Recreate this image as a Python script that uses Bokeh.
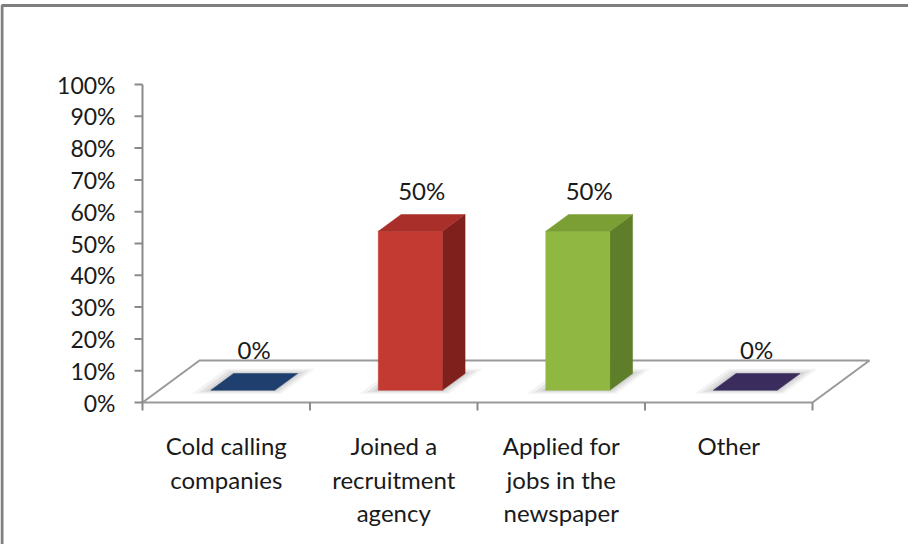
from bokeh.plotting import figure
from bokeh.models import Range1d
from bokeh.embed import file_html
from bokeh.resources import INLINE
from bokeh.core.properties import value

# ---------------- data ----------------
categories = [
    ["Cold calling", "companies"],
    ["Joined a", "recruitment", "agency"],
    ["Applied for", "jobs in the", "newspaper"],
    ["Other"],
]
values = [0, 50, 50, 0]
value_labels = ["0%", "50%", "50%", "0%"]
y_ticks = [0, 10, 20, 30, 40, 50, 60, 70, 80, 90, 100]
y_tick_labels = ["0%", "10%", "20%", "30%", "40%", "50%", "60%", "70%", "80%", "90%", "100%"]

front_colors = ["#1F3F6E", "#C23A31", "#8FB741", "#3B2C5E"]
top_colors = ["#1F3F6E", "#A9302A", "#7B9E35", "#3B2C5E"]
side_colors = ["#17305A", "#7F201C", "#5F7E29", "#2C2148"]

# ---------------- layout ----------------
SX = 167.5      # px per category unit
SY = 3.18       # px per percent
X0 = -142.0 / SX
X1 = 766.0 / SX
Y0 = -142.0 / SY
Y1 = 402.0 / SY

DX, DY = 57.0 / SX, 42.0 / SY     # floor depth vector
F0, F1 = 0.29, 0.69               # bar depth fractions
W = 64.0 / SX                     # bar width
FONT = value("Lato")
FS_TICK = "23px"
FS = "24px"
TEXT = "#1A1A1A"
AX = "#8A8A8A"

p = figure(width=908, height=544, x_range=Range1d(X0, X1), y_range=Range1d(Y0, Y1),
           output_backend="svg", toolbar_location=None, min_border=0,
           x_axis_location=None, y_axis_location=None)
p.grid.visible = False
p.outline_line_color = None
p.background_fill_color = "white"
p.border_fill_color = "white"

# outer frame (top and left edges visible)
bx = X0 + 1.5 / SX
by = Y1 - 5.0 / SY
p.line([bx, bx, X1 + 1], [Y0 - 1, by, by], line_color="#7F7F7F", line_width=3)

n = len(values)

# floor
p.patch([0, n, n + DX, DX], [0, 0, DY, DY], fill_color="white",
        line_color="#9A9A9A", line_width=2)

# shadows at bar bases
for grow, alpha in [(14, 0.12), (9, 0.18), (4, 0.22)]:
    sh_xs, sh_ys = [], []
    for i in range(n):
        c = i + 0.5
        xl, xr = c - W / 2 - grow / SX, c + W / 2 + grow * 0.8 / SX
        a, b = F0 - grow * 0.006, F1 + grow * 0.008
        sh_xs.append([xl + a * DX, xr + a * DX, xr + b * DX, xl + b * DX])
        sh_ys.append([a * DY, a * DY, b * DY, b * DY])
    p.patches(sh_xs, sh_ys, fill_color="#9A9A9A", fill_alpha=alpha, line_color=None)

# bars
fx, fy, tx, ty, sx_, sy_ = [], [], [], [], [], []
fc, tc, scol = [], [], []
for i, v in enumerate(values):
    c = i + 0.5
    xl, xr = c - W / 2, c + W / 2
    tx.append([xl + F0 * DX, xr + F0 * DX, xr + F1 * DX, xl + F1 * DX])
    ty.append([F0 * DY + v, F0 * DY + v, F1 * DY + v, F1 * DY + v])
    tc.append(top_colors[i])
    if v > 0:
        fx.append([xl + F0 * DX, xr + F0 * DX, xr + F0 * DX, xl + F0 * DX])
        fy.append([F0 * DY, F0 * DY, F0 * DY + v, F0 * DY + v])
        fc.append(front_colors[i])
        sx_.append([xr + F0 * DX, xr + F1 * DX, xr + F1 * DX, xr + F0 * DX])
        sy_.append([F0 * DY, F1 * DY, F1 * DY + v, F0 * DY + v])
        scol.append(side_colors[i])
p.patches(sx_, sy_, fill_color=scol, line_color=scol, line_width=0.5)
p.patches(fx, fy, fill_color=fc, line_color=fc, line_width=0.5)
p.patches(tx, ty, fill_color=tc, line_color=tc, line_width=0.5)

# value labels
lx = [i + 0.5 + (F0 + F1) / 2 * DX for i in range(n)]
ly = [v + F1 * DY + 7.5 for v in values]
p.text(lx, ly, text=value_labels, text_align="center", text_baseline="middle",
       text_font=FONT, text_font_size=FS, text_color=TEXT)

# y axis
p.line([0, 0], [0, max(y_ticks)], line_color=AX, line_width=2)
tick_len = 8.0 / SX
p.segment([-tick_len] * len(y_ticks), y_ticks, [0] * len(y_ticks), y_ticks,
          line_color=AX, line_width=2)
p.text([-27.0 / SX] * len(y_ticks), y_ticks, text=y_tick_labels,
       text_align="right", text_baseline="middle",
       text_font=FONT, text_font_size=FS_TICK, text_color=TEXT)

# x axis ticks
xt = list(range(n + 1))
p.segment(xt, [0] * len(xt), xt, [-8.0 / SY] * len(xt), line_color=AX, line_width=2)

# category labels
cx, cy, ct = [], [], []
for i, lines in enumerate(categories):
    for k, t in enumerate(lines):
        cx.append(i + 0.5)
        cy.append(-43.0 / SY - k * 33.5 / SY)
        ct.append(t)
p.text(cx, cy, text=ct, text_align="center", text_baseline="middle",
       text_font=FONT, text_font_size=FS, text_color=TEXT)

open("out.html", "w").write(file_html(p, INLINE))
